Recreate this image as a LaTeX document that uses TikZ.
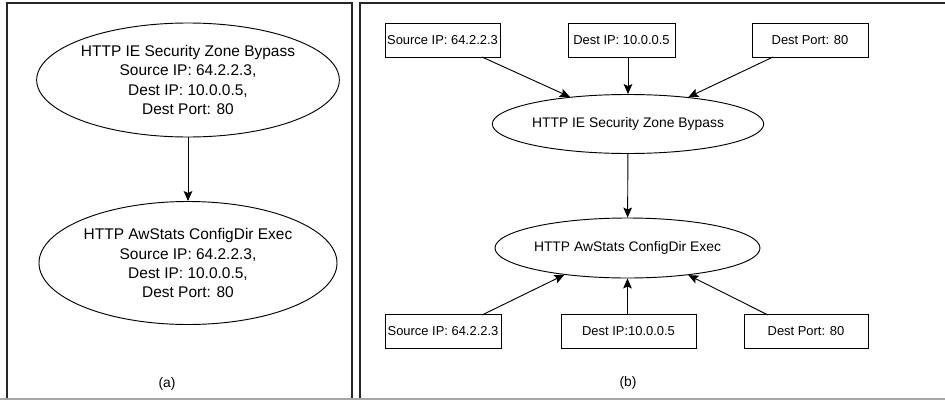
\documentclass[tikz,border=0pt]{standalone}
\usepackage{fontspec}
\setmainfont{Liberation Sans}
\usetikzlibrary{shapes.geometric,arrows.meta}
\begin{document}
\begin{tikzpicture}[x=0.75pt,y=-0.75pt,
  ell/.style={draw,ellipse,inner sep=0pt,line width=0.7pt},
  bigtxt/.style={font=\fontsize{11.6}{14.3}\selectfont,align=center},
  medtxt/.style={font=\fontsize{10.4}{12.5}\selectfont},
  attrbox/.style={draw,rectangle,inner sep=0pt,minimum height=25.5pt,line width=0.7pt,font=\fontsize{9.7}{11.6}\selectfont},
  arr/.style={-{Stealth[length=7.5pt,width=6.5pt,inset=1.5pt]},line width=0.7pt},
  frame/.style={line width=0.8pt,draw=black!85}]
\useasboundingbox (0,0) rectangle (945,400);
% frames
\draw[frame] (7,399) -- (7,3) -- (352,3) -- (352,399);
\draw[frame] (360,399) -- (360,3) -- (945,3);
\draw[draw=black!35,line width=1pt] (0,399) -- (945,399);
% panel (a)
\node[ell,bigtxt,minimum width=217.5pt,minimum height=85.5pt] (a1) at (188,80)
  {HTTP IE Security Zone Bypass\\Source IP: 64.2.2.3,\\Dest IP: 10.0.0.5,\\Dest Port: 80};
\node[ell,bigtxt,minimum width=223.5pt,minimum height=92.25pt] (a2) at (188,263)
  {HTTP AwStats ConfigDir Exec\\Source IP: 64.2.2.3,\\Dest IP: 10.0.0.5,\\Dest Port: 80};
\draw[arr] (a1) -- (a2);
\node[font=\fontsize{10.4}{12.5}\selectfont] (la) at (167,384) {(a)};
% panel (b)
\node[attrbox,minimum width=86.25pt] (s1) at (442.5,40) {Source IP: 64.2.2.3};
\node[attrbox,minimum width=80.25pt] (d1) at (621.5,40) {Dest IP: 10.0.0.5};
\node[attrbox,minimum width=87pt] (p1) at (810,40) {Dest Port: 80};
\node[ell,medtxt,minimum width=195pt,minimum height=44.25pt] (b1) at (628,124) {HTTP IE Security Zone Bypass};
\node[ell,medtxt,minimum width=198.75pt,minimum height=45pt] (b2) at (627.5,248) {HTTP AwStats ConfigDir Exec};
\node[attrbox,minimum width=87pt] (s2) at (443,331.5) {Source IP: 64.2.2.3};
\node[attrbox,minimum width=101.25pt] (d2) at (628.5,331.5) {Dest IP:10.0.0.5};
\node[attrbox,minimum width=93pt] (p2) at (806,331.5) {Dest Port: 80};
\coordinate (s1o) at (482,57);
\coordinate (p1o) at (773,57);
\coordinate (s2o) at (482,315);
\coordinate (p2o) at (768,315);
\draw[arr] (s1o) -- (b1.155.8);
\draw[arr] (d1.south -| b1) -- (b1.north);
\draw[arr] (p1o) -- (b1.24.2);
\draw[arr] (b1) -- (b2);
\draw[arr] (s2o) -- (b2.203.5);
\draw[arr] (d2.north -| b2) -- (b2.south);
\draw[arr] (p2o) -- (b2.-24.1);
\node[font=\fontsize{10.4}{12.5}\selectfont] (lb) at (628,383) {(b)};
\end{tikzpicture}
\end{document}
